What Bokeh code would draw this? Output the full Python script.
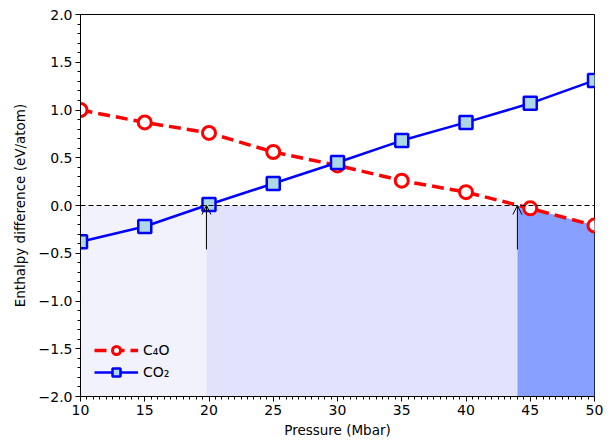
from bokeh.plotting import figure
from bokeh.models import Arrow, OpenHead, Span, Legend, LegendItem, Range1d, FixedTicker
from bokeh.embed import file_html
from bokeh.resources import INLINE

pressure = [10, 15, 20, 25, 30, 35, 40, 45, 50]
c4o = [1.00, 0.87, 0.76, 0.56, 0.42, 0.26, 0.14, -0.03, -0.21]
co2 = [-0.38, -0.22, 0.01, 0.23, 0.45, 0.68, 0.87, 1.07, 1.31]
transitions = [19.8, 44.0]
arrow_base = -0.46

FONT = "DejaVu Sans"

p = figure(width=608, height=440, output_backend="svg", toolbar_location=None,
           x_range=Range1d(10, 50), y_range=Range1d(-2, 2),
           min_border_left=80, min_border_top=14, min_border_right=14, min_border_bottom=40)
p.background_fill_color = "white"
p.outline_line_color = "black"
p.outline_line_width = 1
p.grid.visible = False

# shaded regions
p.varea(x=[pressure[0], transitions[0]], y1=[-2, -2], y2=[0, 0], fill_color="#f2f2fd")
p.varea(x=[transitions[0], transitions[1]], y1=[-2, -2], y2=[0, 0], fill_color="#e2e2fd")
xs3 = [transitions[1]] + [x for x in pressure if x > transitions[1]]
ys3 = [0] + [min(0, c) for x, c in zip(pressure, c4o) if x > transitions[1]]
p.varea(x=xs3, y1=[-2] * len(xs3), y2=ys3, fill_color="#88a0ff")

p.add_layout(Span(location=0, dimension="width", line_color="black", line_dash="5 3", line_width=1))

for t in transitions:
    p.add_layout(Arrow(end=OpenHead(size=9, line_width=1, line_color="black"),
                       x_start=t, y_start=arrow_base, x_end=t, y_end=0,
                       line_color="black", line_width=1))

r1 = p.line(pressure, c4o, line_color="red", line_width=3.5, line_dash="12 6")
r1m = p.scatter(pressure, c4o, marker="circle", size=13, fill_color="white",
                line_color="red", line_width=3)
r2 = p.line(pressure, co2, line_color="blue", line_width=2.5)
r2m = p.scatter(pressure, co2, marker="square", size=13, fill_color="#add8e6",
                line_color="blue", line_width=2.5)

legend = Legend(items=[LegendItem(label="C₄O", renderers=[r1, r1m]),
                       LegendItem(label="CO₂", renderers=[r2, r2m])],
                location="bottom_left", background_fill_alpha=0, border_line_alpha=0,
                label_text_font=FONT, label_text_font_size="14px", label_text_color="black",
                glyph_width=44, glyph_height=20, spacing=2, margin=10, padding=4)
p.add_layout(legend)

for ax in (p.xaxis[0], p.yaxis[0]):
    ax.axis_label_text_font = FONT
    ax.axis_label_text_font_size = "13.5px"
    ax.axis_label_text_font_style = "normal"
    ax.axis_label_text_color = "black"
    ax.major_label_text_font = FONT
    ax.major_label_text_font_size = "14px"
    ax.major_label_text_color = "black"
    ax.major_tick_out = 5
    ax.major_tick_in = 0
    ax.minor_tick_out = 3
    ax.minor_tick_in = 0
    ax.axis_line_color = "black"
    ax.major_tick_line_color = "black"
    ax.minor_tick_line_color = "black"

p.xaxis.axis_label = "Pressure (Mbar)"
p.yaxis.axis_label = "Enthalpy difference (eV/atom)"
p.xaxis.ticker = FixedTicker(ticks=list(range(10, 51, 5)),
                             minor_ticks=[10 + 0.5 * i for i in range(81)])
yt = [round(-2 + 0.5 * i, 1) for i in range(9)]
p.yaxis.ticker = FixedTicker(ticks=yt, minor_ticks=[round(-2 + 0.1 * i, 1) for i in range(41)])
p.yaxis.major_label_overrides = {v: ("−" if v < 0 else "") + f"{abs(v):.1f}" for v in yt}
p.xaxis.major_label_standoff = 3
p.yaxis.major_label_standoff = 3
p.xaxis.axis_label_standoff = 4
p.yaxis.axis_label_standoff = 8

open("out.html", "w").write(file_html(p, INLINE))
